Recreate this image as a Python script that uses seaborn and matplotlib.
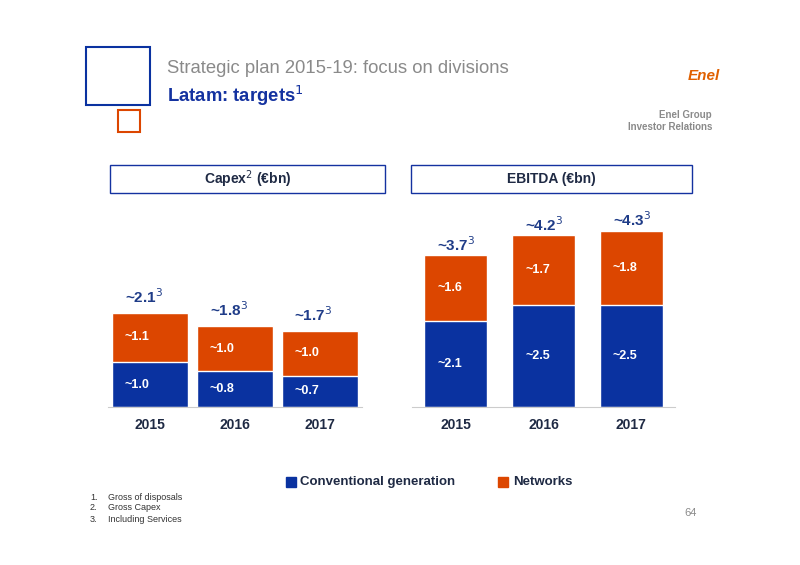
import matplotlib
matplotlib.use("Agg")
import matplotlib.pyplot as plt
import seaborn as sns
import pandas as pd
from matplotlib.patches import Rectangle

sns.set_style("white")
plt.rcParams['font.family'] = ['Liberation Sans', 'DejaVu Sans']

years = ["2015", "2016", "2017"]
capex_conv = [1.0, 0.8, 0.7]
capex_net = [1.1, 1.0, 1.0]
capex_tot = ["~2.1", "~1.8", "~1.7"]
ebitda_conv = [2.1, 2.5, 2.5]
ebitda_net = [1.6, 1.7, 1.8]
ebitda_tot = ["~3.7", "~4.2", "~4.3"]

BLUE = "#0a32a0"
ORANGE = "#dc4600"
W, H = 800, 565
fig = plt.figure(figsize=(8, 5.65), dpi=100)

def fx(x): return x / W
def fy(y): return 1 - y / H

def panel(ax, conv, net, tots, width, ymax, off):
    df = pd.DataFrame({"year": years, "conv": conv, "total": [c + n for c, n in zip(conv, net)]})
    sns.barplot(data=df, x="year", y="total", color=ORANGE, width=width, ax=ax, saturation=1)
    sns.barplot(data=df, x="year", y="conv", color=BLUE, width=width, ax=ax, saturation=1)
    ax.set_xlim(-0.5, 2.5)
    ax.set_ylim(0, ymax)
    ax.set_xlabel(""); ax.set_ylabel("")
    ax.set_yticks([])
    for s in ["top", "right", "left"]:
        ax.spines[s].set_visible(False)
    ax.spines["bottom"].set_color("#cccccc")
    ax.tick_params(axis="x", length=0, pad=8)
    for lab in ax.get_xticklabels():
        lab.set_fontweight("bold"); lab.set_fontsize(10); lab.set_color("#1f2a44")
    for i, (c, n, t) in enumerate(zip(conv, net, tots)):
        ax.text(i - width / 2 + 0.15, c / 2, f"~{c:.1f}", color="white", fontsize=9, fontweight="bold", va="center")
        ax.text(i - width / 2 + 0.15, c + n / 2, f"~{n:.1f}", color="white", fontsize=9, fontweight="bold", va="center")
        ax.text(i - width / 2 + 0.15, c + n + off, t + "$^3$", color="#1f3c88", fontsize=11, fontweight="bold", va="bottom")

base = fy(407)
ax1 = fig.add_axes([fx(108), base, fx(254), 135 / H])
panel(ax1, capex_conv, capex_net, capex_tot, 0.9, 3.0, 0.15)
ax2 = fig.add_axes([fx(412), base, fx(263), 188.6 / H])
panel(ax2, ebitda_conv, ebitda_net, ebitda_tot, 0.72, 4.6, 0.03)

fig.patches.append(Rectangle((fx(86), fy(105)), fx(64), 58 / H, fill=False, ec=BLUE, lw=1.5, transform=fig.transFigure))
fig.patches.append(Rectangle((fx(118), fy(132)), fx(22), 22 / H, fill=False, ec=ORANGE, lw=1.5, transform=fig.transFigure))
fig.text(fx(167), fy(68), "Strategic plan 2015-19: focus on divisions", fontsize=13.3, color="#8a8a8a", va="center")
fig.text(fx(167), fy(96), "Latam: targets$^1$", fontsize=13.3, color="#1432a0", fontweight="bold", va="center")
fig.text(fx(688), fy(76), "Enel", fontsize=11, color="#e06000", fontweight="bold", style="italic", va="center")
fig.text(fx(712), fy(118), "Enel Group", fontsize=7, color="#8a8a8a", ha="right", fontweight="bold")
fig.text(fx(712), fy(130), "Investor Relations", fontsize=7, color="#8a8a8a", ha="right", fontweight="bold")

for x0, x1, lab in [(110, 385, "Capex$^2$ (€bn)"), (411, 692, "EBITDA (€bn)")]:
    fig.patches.append(Rectangle((fx(x0), fy(193)), fx(x1 - x0), 28 / H, fill=False, ec="#1432a0", lw=1, transform=fig.transFigure))
    fig.text(fx((x0 + x1) / 2), fy(179), lab, fontsize=10, fontweight="bold", color="#1f2a44", ha="center", va="center")

fig.patches.append(Rectangle((fx(286), fy(487)), fx(10), 10 / H, color=BLUE, transform=fig.transFigure))
fig.text(fx(300), fy(482), "Conventional generation", fontsize=9.5, fontweight="bold", color="#1f2a44", va="center")
fig.patches.append(Rectangle((fx(498), fy(487)), fx(10), 10 / H, color=ORANGE, transform=fig.transFigure))
fig.text(fx(513), fy(482), "Networks", fontsize=9.5, fontweight="bold", color="#1f2a44", va="center")

for i, t in enumerate(["Gross of disposals", "Gross Capex", "Including Services"]):
    fig.text(fx(90), fy(497 + 11 * i), f"{i+1}.", fontsize=6.5, color="#333333", va="center")
    fig.text(fx(108), fy(497 + 11 * i), t, fontsize=6.5, color="#333333", va="center")
fig.text(fx(697), fy(513), "64", fontsize=8, color="#8a8a8a", ha="right", va="center")

fig.savefig("out.png", dpi=100)
